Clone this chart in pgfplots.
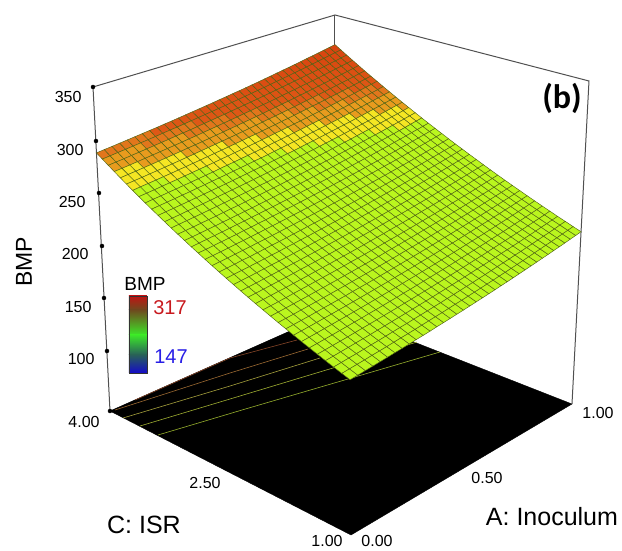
\documentclass[border=0pt]{standalone}
\usepackage{pgfplots}
\pgfplotsset{compat=1.18}
\usepackage{fontspec}
\setmainfont{Liberation Sans}
\newfontfamily\carlito{Carlito}
\definecolor{ttext}{RGB}{35,35,35}
\definecolor{boxl}{RGB}{80,80,80}
\definecolor{meshc}{RGB}{80,100,20}
\definecolor{b1}{RGB}{190,20,20}\definecolor{b2}{RGB}{110,75,30}\definecolor{b3}{RGB}{60,230,40}\definecolor{b4}{RGB}{40,95,90}\definecolor{b5}{RGB}{20,10,200}
\begin{document}
\begin{tikzpicture}
\path[use as bounding box] (0,0) rectangle (622pt,551pt);
\begin{axis}[
  at={(0,0)}, anchor=south west,
  scale only axis, width=622pt, height=551pt,
  xmin=0, xmax=622, ymin=0, ymax=551, zmin=0, zmax=400,
  y dir=reverse, view={0}{90}, hide axis, clip=false, enlargelimits=false,
  point meta min=147, point meta max=320,
  declare function={
    fx(\a,\c,\z)=(1-(\z-50)/300)*(315.53*\a-223.81*\c+351)/(1+0.16527*\a+0.1563*\c)+((\z-50)/300)*(396.4*\a-230.85*\c+349)/(1+0.26556*\a+0.27046*\c);
    fy(\a,\c,\z)=(1-(\z-50)/300)*(-64.23*\a-59.76*\c+535)/(1+0.16527*\a+0.1563*\c)+((\z-50)/300)*(-87.49*\a-79.47*\c+190)/(1+0.26556*\a+0.27046*\c);
    rowi(\n)=floor((\n+0.5)/37);
    coli(\n)=\n-37*floor((\n+0.5)/37);
  },
  colormap={bmp}{
    rgb255(0cm)=(186,246,30); rgb255(122.5cm)=(186,246,30);
    rgb255(122.51cm)=(245,230,35); rgb255(132cm)=(245,230,35);
    rgb255(132.01cm)=(232,155,30); rgb255(140cm)=(232,155,30);
    rgb255(140.01cm)=(226,118,28); rgb255(145cm)=(226,118,28);
    rgb255(145.01cm)=(222,88,22); rgb255(173cm)=(216,66,15);
  },
  every node/.style={text=ttext},
]
% floor
\addplot[fill=black, draw=black] coordinates {(110,411) (351,535) (572,404) (335,311)} --cycle;
% contours on the floor
\addplot[draw={rgb,255:red,135;green,70;blue,40}, line width=0.6pt] coordinates {(135,400) (230,358) (297,340)};
\addplot[draw={rgb,255:red,155;green,105;blue,50}, line width=0.6pt] coordinates {(115,410) (230,373) (308,349)};
\addplot[draw={rgb,255:red,165;green,160;blue,60}, line width=0.6pt] coordinates {(123,418) (230,386) (320,358)};
\addplot[draw={rgb,255:red,160;green,175;blue,50}, line width=0.6pt] coordinates {(140,426) (230,399) (333,368) (417,342)};
\addplot[draw={rgb,255:red,150;green,175;blue,45}, line width=0.6pt] coordinates {(158,435) (242,410) (348,379) (440,352)};
% box
\addplot[draw=boxl, line width=1pt] coordinates {(110,411) (93,87) (335,15) (589,81) (572,404)};
\addplot[draw=boxl, line width=1pt] coordinates {(335,15) (335,60)};
% surface
\addplot3[surf, shader=faceted, faceted color=meshc, line width=0.45pt, mesh/cols=37]
 table[header=false,
  x expr={fx(coli(\coordindex)/36,rowi(\coordindex)/36,\thisrowno{0})},
  y expr={fy(coli(\coordindex)/36,rowi(\coordindex)/36,\thisrowno{0})},
  z expr={\thisrowno{0}}] {
185.0
185.5
186.0
186.5
187.0
187.5
188.1
188.6
189.2
189.8
190.3
190.9
191.6
192.2
192.8
193.5
194.1
194.8
195.5
196.2
196.9
197.6
198.4
199.1
199.9
200.7
201.5
202.3
203.1
203.9
204.7
205.6
206.4
207.3
208.2
209.1
210.0
187.2
187.7
188.2
188.7
189.3
189.8
190.3
190.9
191.5
192.0
192.6
193.2
193.9
194.5
195.1
195.8
196.5
197.1
197.8
198.5
199.2
200.0
200.7
201.5
202.2
203.0
203.8
204.6
205.4
206.3
207.1
208.0
208.8
209.7
210.6
211.5
212.4
189.5
190.0
190.5
191.0
191.5
192.1
192.6
193.2
193.8
194.4
194.9
195.6
196.2
196.8
197.5
198.1
198.8
199.5
200.2
200.9
201.6
202.4
203.1
203.9
204.7
205.5
206.2
207.1
207.8
208.7
209.5
210.4
211.3
212.1
213.0
214.0
214.9
191.8
192.3
192.8
193.3
193.9
194.4
194.9
195.5
196.1
196.7
197.3
197.9
198.6
199.2
199.8
200.5
201.2
201.9
202.6
203.3
204.0
204.8
205.6
206.3
207.1
207.9
208.8
209.5
210.3
211.1
212.0
212.8
213.7
214.6
215.5
216.4
217.3
194.2
194.7
195.2
195.7
196.2
196.8
197.4
197.9
198.5
199.1
199.7
200.3
201.0
201.6
202.3
202.9
203.6
204.3
205.0
205.7
206.5
207.2
208.0
208.8
209.5
210.3
211.2
212.0
212.8
213.6
214.5
215.3
216.2
217.1
218.0
218.9
219.9
196.6
197.1
197.6
198.1
198.7
199.2
199.8
200.3
201.0
201.5
202.1
202.8
203.4
204.1
204.7
205.4
206.1
206.8
207.5
208.2
208.9
209.7
210.5
211.2
212.0
212.8
213.6
214.5
215.3
216.1
217.0
217.9
218.7
219.6
220.5
221.5
222.4
199.0
199.5
200.0
200.6
201.1
201.7
202.2
202.8
203.4
204.0
204.6
205.2
205.9
206.5
207.2
207.9
208.6
209.3
210.0
210.7
211.5
212.2
213.0
213.8
214.6
215.4
216.2
217.0
217.8
218.7
219.6
220.4
221.3
222.2
223.1
224.1
225.0
201.5
202.0
202.5
203.0
203.6
204.1
204.7
205.3
205.9
206.5
207.1
207.8
208.4
209.0
209.8
210.4
211.1
211.8
212.6
213.3
214.0
214.8
215.6
216.3
217.1
218.0
218.8
219.7
220.5
221.3
222.2
223.0
224.0
224.8
225.7
226.7
227.6
204.0
204.5
205.0
205.5
206.1
206.7
207.2
207.8
208.4
209.1
209.7
210.3
210.9
211.6
212.3
213.0
213.7
214.4
215.1
215.9
216.6
217.4
218.2
219.0
219.8
220.6
221.4
222.2
223.1
224.0
224.8
225.7
226.6
227.5
228.4
229.3
230.3
206.5
207.0
207.5
208.1
208.7
209.2
209.8
210.4
211.0
211.6
212.3
212.9
213.6
214.2
214.9
215.6
216.3
217.0
217.8
218.5
219.2
220.0
220.8
221.6
222.4
223.2
224.0
224.9
225.7
226.6
227.5
228.4
229.3
230.2
231.1
232.0
233.0
209.1
209.6
210.1
210.7
211.2
211.8
212.4
213.0
213.6
214.2
214.9
215.5
216.2
216.9
217.5
218.2
219.0
219.7
220.4
221.2
221.9
222.7
223.5
224.3
225.1
225.9
226.7
227.6
228.4
229.3
230.2
231.1
232.0
232.9
233.8
234.8
235.7
211.7
212.2
212.7
213.3
213.9
214.5
215.1
215.7
216.3
216.9
217.5
218.2
218.9
219.5
220.2
220.9
221.6
222.4
223.1
223.8
224.6
225.4
226.2
227.0
227.8
228.6
229.4
230.3
231.2
232.0
232.9
233.8
234.7
235.7
236.6
237.6
238.5
214.3
214.9
215.4
216.0
216.5
217.1
217.7
218.3
219.0
219.6
220.2
220.9
221.6
222.2
222.9
223.6
224.4
225.1
225.8
226.6
227.4
228.1
228.9
229.7
230.6
231.4
232.2
233.1
234.0
234.8
235.7
236.6
237.5
238.5
239.4
240.4
241.3
217.0
217.6
218.1
218.7
219.3
219.8
220.4
221.1
221.7
222.3
223.0
223.6
224.3
225.0
225.7
226.4
227.1
227.9
228.6
229.4
230.2
231.0
231.7
232.5
233.4
234.2
235.0
235.9
236.8
237.7
238.6
239.5
240.4
241.3
242.3
243.2
244.2
219.7
220.3
220.8
221.4
222.0
222.6
223.2
223.8
224.4
225.1
225.7
226.4
227.1
227.8
228.5
229.2
229.9
230.7
231.5
232.2
233.0
233.8
234.5
235.4
236.2
237.0
237.9
238.7
239.6
240.5
241.4
242.3
243.2
244.2
245.2
246.2
247.1
222.5
223.1
223.6
224.2
224.8
225.4
226.0
226.6
227.2
227.9
228.5
229.2
229.9
230.6
231.3
232.0
232.7
233.5
234.3
235.0
235.8
236.6
237.4
238.2
239.1
239.9
240.8
241.6
242.5
243.4
244.3
245.2
246.2
247.1
248.1
249.0
250.0
225.3
225.9
226.4
227.0
227.6
228.2
228.8
229.4
230.1
230.7
231.4
232.0
232.8
233.4
234.2
234.9
235.6
236.4
237.1
237.9
238.7
239.5
240.3
241.1
242.0
242.8
243.7
244.5
245.4
246.3
247.2
248.2
249.1
250.0
251.0
252.0
253.0
228.1
228.7
229.3
229.9
230.4
231.0
231.7
232.3
232.9
233.6
234.3
234.9
235.7
236.3
237.1
237.8
238.5
239.3
240.1
240.8
241.6
242.5
243.2
244.1
244.9
245.8
246.6
247.4
248.4
249.3
250.2
251.1
252.1
253.0
254.0
254.9
255.9
231.0
231.6
232.1
232.7
233.3
233.9
234.6
235.2
235.8
236.5
237.2
237.8
238.6
239.3
239.9
240.7
241.5
242.2
243.0
243.8
244.6
245.4
246.2
247.0
247.9
248.7
249.6
250.5
251.4
252.3
253.2
254.1
255.1
256.1
257.0
258.0
259.0
233.9
234.5
235.0
235.6
236.3
236.9
237.5
238.1
238.8
239.4
240.1
240.8
241.5
242.2
242.9
243.6
244.4
245.2
245.9
246.8
247.6
248.4
249.2
250.1
250.9
251.8
252.7
253.5
254.4
255.3
256.3
257.2
258.2
259.1
260.1
261.1
262.1
236.9
237.4
238.0
238.6
239.2
239.8
240.5
241.1
241.8
242.4
243.1
243.8
244.5
245.2
245.9
246.7
247.5
248.2
249.0
249.8
250.6
251.4
252.3
253.1
254.0
254.9
255.7
256.6
257.5
258.4
259.4
260.3
261.2
262.2
263.2
264.2
265.2
239.8
240.4
241.0
241.6
242.2
242.8
243.5
244.1
244.8
245.5
246.2
246.8
247.6
248.3
249.0
249.8
250.5
251.3
252.1
252.9
253.7
254.5
255.4
256.2
257.1
258.0
258.8
259.7
260.6
261.5
262.5
263.4
264.4
265.4
266.3
267.3
268.3
242.9
243.4
244.0
244.6
245.2
245.9
246.5
247.2
247.8
248.5
249.2
249.9
250.6
251.4
252.1
252.9
253.6
254.4
255.2
256.0
256.8
257.6
258.5
259.4
260.2
261.1
262.0
262.9
263.8
264.7
265.6
266.6
267.5
268.5
269.5
270.5
271.5
245.9
246.5
247.1
247.7
248.3
248.9
249.6
250.3
250.9
251.6
252.3
253.0
253.7
254.5
255.2
256.0
256.8
257.6
258.4
259.1
260.0
260.8
261.6
262.5
263.4
264.3
265.2
266.0
267.0
267.9
268.8
269.8
270.8
271.7
272.7
273.7
274.7
249.0
249.6
250.2
250.8
251.4
252.1
252.7
253.4
254.1
254.8
255.4
256.2
256.9
257.6
258.4
259.1
259.9
260.7
261.5
262.3
263.1
264.0
264.8
265.7
266.6
267.5
268.3
269.3
270.2
271.1
272.1
273.0
274.0
275.0
275.9
276.9
278.0
252.1
252.7
253.3
254.0
254.6
255.2
255.9
256.6
257.2
257.9
258.6
259.3
260.1
260.8
261.6
262.4
263.1
263.9
264.7
265.5
266.4
267.2
268.1
269.0
269.8
270.7
271.6
272.5
273.4
274.4
275.3
276.3
277.3
278.3
279.3
280.3
281.3
255.3
255.9
256.5
257.1
257.8
258.4
259.1
259.8
260.4
261.1
261.8
262.6
263.3
264.1
264.8
265.6
266.4
267.2
268.0
268.8
269.6
270.5
271.3
272.2
273.1
274.0
274.9
275.8
276.7
277.7
278.6
279.6
280.6
281.6
282.6
283.6
284.6
258.5
259.1
259.7
260.3
261.0
261.6
262.3
263.0
263.7
264.4
265.1
265.8
266.6
267.3
268.1
268.8
269.6
270.4
271.3
272.1
272.9
273.8
274.6
275.5
276.4
277.3
278.2
279.1
280.1
281.0
282.0
283.0
284.0
285.0
286.0
287.0
288.0
261.7
262.4
262.9
263.6
264.2
264.9
265.5
266.2
266.9
267.6
268.4
269.1
269.8
270.6
271.4
272.1
272.9
273.8
274.6
275.4
276.2
277.1
278.0
278.9
279.7
280.6
281.6
282.5
283.4
284.4
285.3
286.3
287.3
288.3
289.3
290.3
291.4
265.0
265.6
266.2
266.9
267.6
268.2
268.9
269.6
270.3
271.0
271.7
272.5
273.2
274.0
274.7
275.5
276.3
277.1
277.9
278.8
279.6
280.5
281.4
282.2
283.1
284.1
285.0
285.9
286.8
287.8
288.8
289.8
290.7
291.8
292.8
293.8
294.9
268.3
269.0
269.6
270.2
270.9
271.5
272.2
272.9
273.6
274.3
275.1
275.8
276.6
277.3
278.1
278.9
279.7
280.5
281.3
282.2
283.0
283.9
284.8
285.7
286.6
287.5
288.4
289.3
290.3
291.3
292.2
293.2
294.2
295.2
296.2
297.3
298.3
271.7
272.3
272.9
273.6
274.2
274.9
275.6
276.3
277.0
277.7
278.5
279.2
280.0
280.7
281.5
282.3
283.1
283.9
284.8
285.6
286.5
287.3
288.2
289.1
290.0
290.9
291.8
292.8
293.7
294.7
295.7
296.7
297.7
298.7
299.7
300.8
301.8
275.1
275.7
276.3
277.0
277.6
278.3
279.0
279.7
280.4
281.2
281.9
282.6
283.4
284.2
285.0
285.8
286.6
287.4
288.2
289.1
289.9
290.8
291.7
292.6
293.5
294.4
295.4
296.3
297.3
298.3
299.2
300.2
301.2
302.3
303.3
304.4
305.4
278.5
279.1
279.7
280.4
281.1
281.8
282.5
283.2
283.9
284.6
285.4
286.1
286.9
287.7
288.5
289.3
290.1
290.9
291.8
292.6
293.5
294.4
295.2
296.1
297.1
298.0
298.9
299.9
300.8
301.8
302.8
303.8
304.8
305.9
306.9
308.0
309.0
282.0
282.6
283.2
283.9
284.6
285.3
286.0
286.7
287.4
288.2
288.9
289.6
290.4
291.2
292.0
292.8
293.6
294.5
295.3
296.2
297.0
297.9
298.8
299.7
300.7
301.6
302.5
303.5
304.4
305.4
306.4
307.4
308.4
309.5
310.5
311.6
312.6
285.5
286.1
286.8
287.4
288.1
288.8
289.5
290.2
291.0
291.7
292.4
293.2
294.0
294.8
295.6
296.4
297.2
298.0
298.9
299.7
300.6
301.5
302.4
303.3
304.3
305.2
306.1
307.1
308.1
309.0
310.0
311.1
312.1
313.1
314.2
315.2
316.3
289.0
289.7
290.3
291.0
291.7
292.4
293.1
293.8
294.5
295.3
296.0
296.8
297.6
298.4
299.2
300.0
300.8
301.7
302.5
303.4
304.2
305.1
306.0
306.9
307.9
308.8
309.8
310.8
311.7
312.7
313.7
314.8
315.8
316.8
317.9
318.9
320.0
};
% ticks
\addplot[only marks, mark=*, mark size=2pt, black] coordinates {(93,87) (96,141) (99,193) (102,246) (104,298) (107,351) (110,411)};
% tick labels
\node[anchor=east,font=\fontsize{16}{18}\selectfont] at (axis cs:85,97) {350};
\node[anchor=east,font=\fontsize{16}{18}\selectfont] at (axis cs:87,150) {300};
\node[anchor=east,font=\fontsize{16}{18}\selectfont] at (axis cs:89,202) {250};
\node[anchor=east,font=\fontsize{16}{18}\selectfont] at (axis cs:92,254) {200};
\node[anchor=east,font=\fontsize{16}{18}\selectfont] at (axis cs:95,307) {150};
\node[anchor=east,font=\fontsize{16}{18}\selectfont] at (axis cs:98,359) {100};
\node[font=\fontsize{16}{18}\selectfont] at (axis cs:84,422) {4.00};
\node[font=\fontsize{16}{18}\selectfont] at (axis cs:205,483) {2.50};
\node[font=\fontsize{16}{18}\selectfont] at (axis cs:327,541) {1.00};
\node[font=\fontsize{16}{18}\selectfont] at (axis cs:377,541) {0.00};
\node[font=\fontsize{16}{18}\selectfont] at (axis cs:487,478) {0.50};
\node[font=\fontsize{16}{18}\selectfont] at (axis cs:598,413) {1.00};
% axis titles
\node[rotate=90,font=\fontsize{23}{26}\selectfont] at (axis cs:24,262) {BMP};
\node[font=\fontsize{25}{28}\selectfont] at (axis cs:144,525) {C: ISR};
\node[font=\fontsize{25}{28}\selectfont] at (axis cs:552,517) {A: Inoculum};
\node[font=\carlito\bfseries\fontsize{34}{36}\selectfont,text=black] at (axis cs:562,98) {(b)};
% legend
\node[font=\fontsize{19}{21}\selectfont] at (axis cs:145,284) {BMP};
\node[font=\fontsize{20}{22}\selectfont,text={rgb,255:red,200;green,25;blue,30}] at (axis cs:170,308) {317};
\node[font=\fontsize{20}{22}\selectfont,text={rgb,255:red,40;green,30;blue,230}] at (axis cs:171,357) {147};
\shade[top color=b1,bottom color=b2] (axis cs:129,296) rectangle (axis cs:147,310);
\shade[top color=b2,bottom color=b3] (axis cs:129,310) rectangle (axis cs:147,335);
\shade[top color=b3,bottom color=b4] (axis cs:129,335) rectangle (axis cs:147,355);
\shade[top color=b4,bottom color=b5] (axis cs:129,355) rectangle (axis cs:147,373);
\draw[black!80,line width=0.7pt] (axis cs:129,296) rectangle (axis cs:147,373);
\end{axis}
\end{tikzpicture}
\end{document}
